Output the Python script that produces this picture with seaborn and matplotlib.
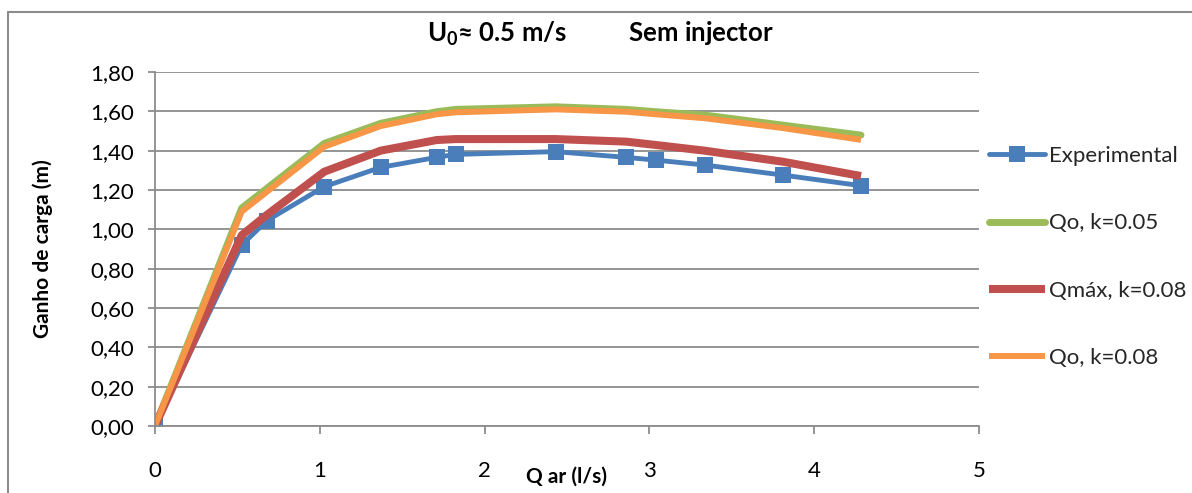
import matplotlib
matplotlib.use("Agg")
import matplotlib.pyplot as plt
import seaborn as sns
import pandas as pd
from matplotlib.lines import Line2D
from matplotlib.ticker import FuncFormatter, MultipleLocator

q_ar = [0.0, 0.526, 0.678, 1.027, 1.369, 1.709, 1.824, 2.431, 2.858, 3.038, 3.335, 3.809, 4.284]
experimental = [0.0, 0.92, 1.044, 1.217, 1.315, 1.366, 1.381, 1.395, 1.366, 1.352, 1.327, 1.276, 1.222]
qo_k005 = [0.0, 1.108, 1.208, 1.437, 1.539, 1.598, 1.610, 1.623, 1.610, 1.598, 1.581, 1.530, 1.479]
qmax_k008 = [0.0, 0.97, 1.073, 1.293, 1.400, 1.454, 1.459, 1.459, 1.446, 1.429, 1.400, 1.344, 1.271]
qo_k008 = [0.0, 1.09, 1.19, 1.42, 1.525, 1.585, 1.595, 1.61, 1.598, 1.585, 1.565, 1.515, 1.455]

series_names = ["Experimental", "Qo, k=0.05", "Qmáx, k=0.08", "Qo, k=0.08"]
colors = ["#4a7ebb", "#9bbb59", "#c0504d", "#f79646"]
title = "U$_\\mathbf{0}$≈ 0.5 m/s" + " " * 10 + "Sem injector"
xlabel = "Q ar (l/s)"
ylabel = "Ganho de carga (m)"

sns.set_theme(style="white")
plt.rcParams['font.family'] = ['Lato', 'DejaVu Sans']
plt.rcParams['mathtext.fontset'] = 'custom'
plt.rcParams['mathtext.rm'] = 'Lato'
plt.rcParams['mathtext.bf'] = 'Lato:bold'

fig = plt.figure(figsize=(11.92, 4.93), dpi=100)
ax = fig.add_axes([155/1192, 1 - 426/493, (979-155)/1192, (426-72)/493])

df = pd.DataFrame({"q": q_ar, "Experimental": experimental, "Qo, k=0.05": qo_k005,
                   "Qmáx, k=0.08": qmax_k008, "Qo, k=0.08": qo_k008})

lw_exp, lw_g, lw_r, lw_o = 3.5, 5.0, 5.8, 4.3
sns.lineplot(data=df, x="q", y="Experimental", ax=ax, color=colors[0], lw=lw_exp,
             marker="s", markersize=11, markeredgewidth=0, sort=False, zorder=1)
sns.lineplot(data=df, x="q", y="Qo, k=0.05", ax=ax, color=colors[1], lw=lw_g,
             solid_capstyle="round", sort=False)
sns.lineplot(data=df, x="q", y="Qmáx, k=0.08", ax=ax, color=colors[2], lw=lw_r,
             solid_capstyle="butt", sort=False)
sns.lineplot(data=df, x="q", y="Qo, k=0.08", ax=ax, color=colors[3], lw=lw_o,
             solid_capstyle="butt", sort=False)

ax.set_xlim(0, 5)
ax.set_ylim(0, 1.80)
ax.xaxis.set_major_locator(MultipleLocator(1))
ax.yaxis.set_major_locator(MultipleLocator(0.2))
ax.yaxis.set_major_formatter(FuncFormatter(lambda v, p: f"{v:.2f}".replace(".", ",")))
ax.grid(axis="y", color="#8c8c8c", lw=1.3)
ax.grid(axis="x", visible=False)
ax.set_axisbelow(True)
for s in ["top", "right"]:
    ax.spines[s].set_visible(False)
for s in ["left", "bottom"]:
    ax.spines[s].set_color("#8c8c8c")
    ax.spines[s].set_linewidth(1.3)
ax.tick_params(axis="x", which="major", direction="out", length=6, width=1.3,
               color="#8c8c8c", labelsize=16, pad=19, labelcolor="black")
ax.tick_params(axis="y", which="major", direction="out", length=5, width=1.3,
               color="#8c8c8c", labelsize=16, pad=10, labelcolor="black")
ax.tick_params(bottom=True, left=True)
ax.set_xlabel(xlabel, fontsize=15, fontweight="bold", color="black")
ax.xaxis.set_label_coords((566-155)/(979-155), (426-467)/354)
ax.set_ylabel(ylabel, fontsize=15, fontweight="bold", color="black")
ax.yaxis.set_label_coords((53-155)/824, 0.5)
ax.set_title(title, fontsize=18.5, fontweight="bold", color="black",
             x=(600-155)/824, y=1.0, pad=22)

handles = [
    Line2D([], [], color=colors[0], lw=lw_exp, marker="s", markersize=11, markeredgewidth=0),
    Line2D([], [], color=colors[1], lw=lw_g, solid_capstyle="round"),
    Line2D([], [], color=colors[2], lw=lw_r, solid_capstyle="butt"),
    Line2D([], [], color=colors[3], lw=lw_o, solid_capstyle="butt"),
]
fig.legend(handles, series_names, loc="upper left", bbox_to_anchor=(989/1192, 1 - 146/493),
           frameon=False, fontsize=16, handlelength=2.5, handletextpad=0.2,
           labelspacing=2.13, borderaxespad=0, borderpad=0)

# chart border
fig.add_artist(Line2D([8/1192, 8/1192], [0, 1 - 12/493], transform=fig.transFigure,
                      color="#8c8c8c", lw=1.5))
fig.add_artist(Line2D([8/1192, 1], [1 - 12/493, 1 - 12/493], transform=fig.transFigure,
                      color="#8c8c8c", lw=1.5))

fig.savefig("out.png", dpi=100)
